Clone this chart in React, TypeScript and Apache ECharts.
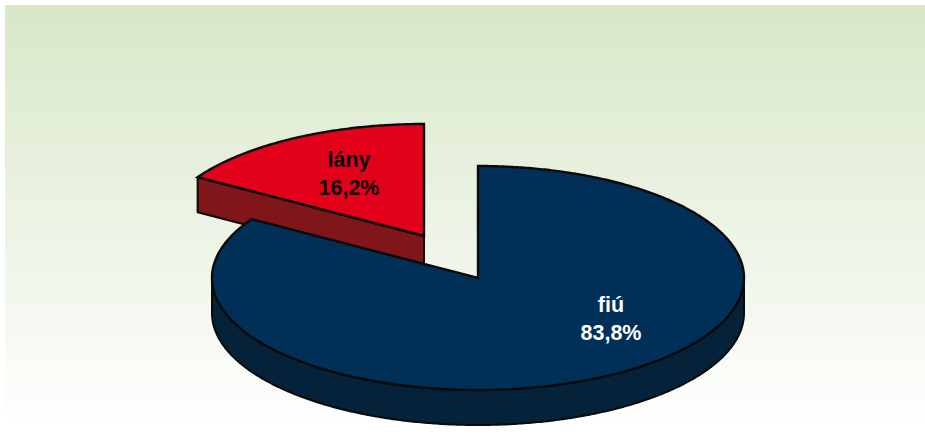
import React, { useEffect, useRef } from "react";
import * as echarts from "echarts";

const categories = ["fiú", "lány"];
const values = [83.8, 16.2];
const valueLabels = ["83,8%", "16,2%"];

const topColors = ["#003057", "#e2001a"];
const sideColors = ["#04233b", "#80151a"];
const labelColors = ["#ffffff", "#0b0b0b"];
const explodeX = [0, -54];
const explodeY = [0, -42];
const labelX = [611, 349];
const labelY = [319, 174];

const CX = 478;
const CY = 278;
const RX = 266;
const RY = 112;
const DEPTH = 35;
const OUTLINE = "#0a0a0a";

function arcPoints(cx: number, cy: number, from: number, to: number) {
  const pts: number[][] = [];
  const n = Math.max(2, Math.ceil(Math.abs(to - from) * 2));
  for (let i = 0; i <= n; i++) {
    const t = ((from + ((to - from) * i) / n) * Math.PI) / 180;
    pts.push([cx + RX * Math.sin(t), cy - RY * Math.cos(t)]);
  }
  return pts;
}

function shifted(pts: number[][]) {
  return pts.map((p) => [p[0], p[1] + DEPTH]).reverse();
}

export default function App() {
  const ref = useRef<HTMLDivElement>(null);

  useEffect(() => {
    if (!ref.current) return;
    document.documentElement.style.margin = "0";
    document.body.style.margin = "0";
    document.body.style.overflow = "hidden";
    const chart = echarts.init(ref.current, undefined, {
      renderer: "svg",
      width: 925,
      height: 443,
    });
    const total = values.reduce((a, b) => a + b, 0);

    const renderItem = (params: any, api: any) => {
      const i = params.dataIndex;
      const before = values.slice(0, i).reduce((a, b) => a + b, 0);
      const start = (before / total) * 360;
      const end = start + (api.value(0) / total) * 360;
      const cx = CX + explodeX[i];
      const cy = CY + explodeY[i];
      const z = i === 0 ? 20 : 10;
      const children: any[] = [];
      const sideStyle = {
        fill: sideColors[i],
        stroke: OUTLINE,
        lineWidth: 2,
        lineJoin: "round",
      };

      // cut faces that look towards the viewer
      const radial = (angle: number) => {
        const edge = arcPoints(cx, cy, angle, angle)[0];
        children.push({
          type: "polygon",
          z2: z,
          shape: {
            points: [
              [cx, cy],
              edge,
              [edge[0], edge[1] + DEPTH],
              [cx, cy + DEPTH],
            ],
          },
          style: sideStyle,
        });
      };
      if (Math.sin((start * Math.PI) / 180) < -1e-6) radial(start);
      if (Math.sin((end * Math.PI) / 180) > 1e-6) radial(end);

      // rim along the front half of the ellipse
      const rimFrom = Math.max(start, 90);
      const rimTo = Math.min(end, 270);
      if (rimTo > rimFrom) {
        const rim = arcPoints(cx, cy, rimFrom, rimTo);
        children.push({
          type: "polygon",
          z2: z + 1,
          shape: { points: rim.concat(shifted(rim)) },
          style: sideStyle,
        });
      }

      // top face
      children.push({
        type: "polygon",
        z2: z + 2,
        shape: { points: [[cx, cy]].concat(arcPoints(cx, cy, start, end)) },
        style: {
          fill: topColors[i],
          stroke: OUTLINE,
          lineWidth: 2.4,
          lineJoin: "miter",
        },
      });

      children.push({
        type: "text",
        z2: 40,
        x: labelX[i],
        y: labelY[i],
        style: {
          text: categories[i] + "\n" + valueLabels[i],
          fill: labelColors[i],
          font: 'bold 21.5px "Liberation Sans", Arial, sans-serif',
          lineHeight: 28,
          align: "center",
          verticalAlign: "middle",
        },
      });
      return { type: "group", children };
    };

    chart.setOption({
      animation: false,
      backgroundColor: "#ffffff",
      tooltip: { show: false },
      graphic: [
        {
          type: "rect",
          z: 0,
          silent: true,
          shape: { x: 5, y: 5, width: 920, height: 438 },
          style: {
            fill: new echarts.graphic.LinearGradient(0, 0, 0, 1, [
              { offset: 0, color: "#d8e7c8" },
              { offset: 0.97, color: "#ffffff" },
              { offset: 1, color: "#ffffff" },
            ]),
          },
        },
      ],
      series: [
        {
          type: "custom",
          coordinateSystem: "none",
          z: 5,
          silent: true,
          renderItem,
          data: values.map((v, i) => ({ name: categories[i], value: [v] })),
        },
      ],
    });
    return () => chart.dispose();
  }, []);

  return <div ref={ref} style={{ width: 925, height: 443 }} />;
}
